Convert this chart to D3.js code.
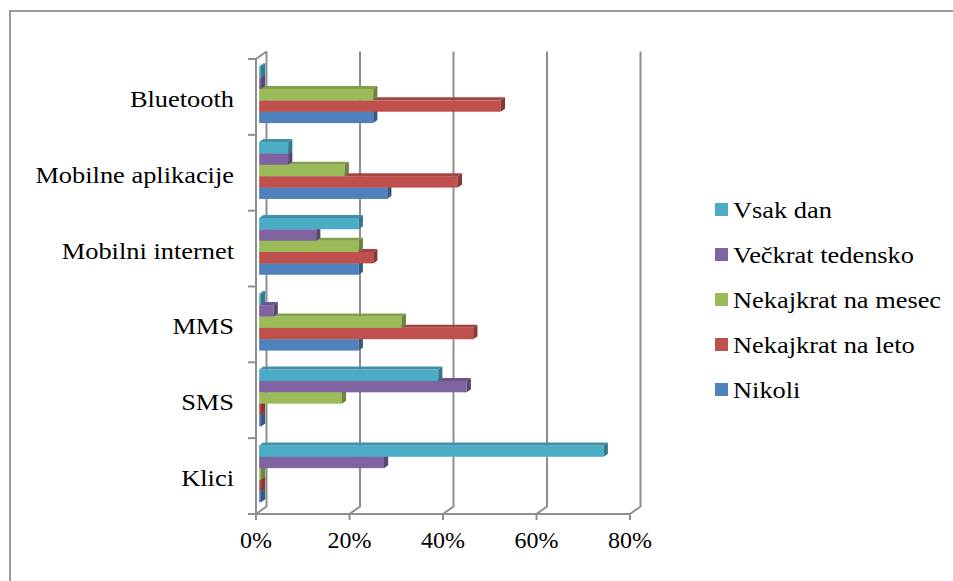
<!DOCTYPE html>
<html>
<head>
<meta charset="utf-8">
<script src="https://cdn.jsdelivr.net/npm/d3@7/dist/d3.min.js"></script>
<style>
  html, body { margin: 0; padding: 0; background: #fff; }
  svg { display: block; }
</style>
</head>
<body>
<svg id="chart" width="953" height="581"></svg>
<script>
// Categories, top to bottom
const categories = ["Bluetooth", "Mobilne aplikacije", "Mobilni internet", "MMS", "SMS", "Klici"];
// Series, top bar to bottom bar within each category
const seriesNames = ["Vsak dan", "Večkrat tedensko", "Nekajkrat na mesec", "Nekajkrat na leto", "Nikoli"];
const seriesColors = ["#4BACC6", "#8064A2", "#9BBB59", "#C0504D", "#4F81BD"];

// Shares per series, aligned with categories
const vsakDan        = [0.004, 0.062, 0.213, 0.004, 0.383, 0.737];
const veckratTeden   = [0.004, 0.062, 0.122, 0.031, 0.444, 0.267];
const nakajkratMesec = [0.244, 0.183, 0.213, 0.305, 0.177, 0.004];
const nakajkratLeto  = [0.517, 0.425, 0.244, 0.458, 0.004, 0.004];
const nikoli         = [0.244, 0.274, 0.213, 0.213, 0.004, 0.004];
const seriesValues = [vsakDan, veckratTeden, nakajkratMesec, nakajkratLeto, nikoli];

const tickValues = [0, 0.2, 0.4, 0.6, 0.8];

const FONT = '"Liberation Serif", "Times New Roman", serif';
const FONT_SIZE = 24;
const STRETCH = 1.1;

const svg = d3.select("#chart");
const gridColor = "#8f8f8f";

// Outer frame
svg.append("path")
  .attr("d", "M10,581V11H953")
  .attr("fill", "none").attr("stroke", "#9a9a9a").attr("stroke-width", 2);

// Front plane scales
const x = d3.scaleLinear().domain([0, 0.8]).range([256, 630]);
const y = d3.scaleBand().domain(categories).range([59, 514]).paddingInner(0.25).paddingOuter(0.125);
const yInner = d3.scaleBand().domain(seriesNames).range([0, y.bandwidth()]);

// Depth of the 3D box, and the slice of it the bars occupy
const DX = 10.5, DY = -7.5;
const barFront = 0.3, barDepth = 0.4;
const yTop = 59, yBase = 514;

const grid = svg.append("g").attr("fill", "none").attr("stroke", gridColor).attr("stroke-width", 2);

// Back wall gridlines and floor diagonals
tickValues.forEach(t => {
  grid.append("path")
    .attr("d", `M${x(t)},${yBase + 6}V${yBase}L${x(t) + DX},${yBase + DY}V${yTop + DY}`);
});
// Front baseline
grid.append("path").attr("d", `M${x(0) - 3},${yBase}H${x(0.8)}`);
// Left wall: front edge and top edge
grid.append("path").attr("d", `M${x(0) + DX},${yTop + DY}L${x(0)},${yTop}V${yBase}`);
// Category ticks on the left wall
const boundaries = d3.range(categories.length + 1).map(i => yTop + i * y.step());
boundaries.forEach(b => {
  grid.append("path").attr("d", `M${x(0) - 8},${b}H${x(0)}`);
});

// Bars, drawn bottom-up so upper bars cover the top faces below them
const fdx = barFront * DX, fdy = barFront * DY;
const bdx = barDepth * DX, bdy = barDepth * DY;
const bars = svg.append("g");
const catOrder = categories.map((c, i) => i).reverse();
catOrder.forEach(ci => {
  const cat = categories[ci];
  for (let si = seriesNames.length - 1; si >= 0; si--) {
    const v = seriesValues[si][ci];
    const col = d3.color(seriesColors[si]);
    const x0 = x(0) + fdx, x1 = x(v) + fdx;
    const ya = y(cat) + yInner(seriesNames[si]) + fdy;
    const yb = ya + yInner.bandwidth();
    const g = bars.append("g");
    g.append("rect")
      .attr("x", x0).attr("y", ya)
      .attr("width", x1 - x0).attr("height", yb - ya)
      .attr("fill", col.formatHex());
    g.append("polygon")
      .attr("points", [[x0, ya], [x1, ya], [x1 + bdx, ya + bdy], [x0 + bdx, ya + bdy]].join(" "))
      .attr("fill", col.darker(0.45).formatHex());
    g.append("polygon")
      .attr("points", [[x1, ya], [x1 + bdx, ya + bdy], [x1 + bdx, yb + bdy], [x1, yb]].join(" "))
      .attr("fill", col.darker(1.0).formatHex());
  }
});

// Category labels
svg.append("g").selectAll("text").data(categories).join("text")
  .attr("transform", d => `translate(234, ${y(d) + y.bandwidth() / 2 + 10}) scale(${STRETCH}, 1)`)
  .attr("text-anchor", "end")
  .style("font-family", FONT)
  .style("font-size", FONT_SIZE + "px")
  .text(d => d);

// Value axis labels
svg.append("g").selectAll("text").data(tickValues).join("text")
  .attr("x", d => x(d))
  .attr("y", 548)
  .attr("text-anchor", "middle")
  .style("font-family", FONT)
  .style("font-size", FONT_SIZE + "px")
  .text(d => d3.format(".0%")(d));

// Legend
const legend = svg.append("g").selectAll("g").data(seriesNames).join("g")
  .attr("transform", (d, i) => `translate(715, ${210 + i * 45})`);
legend.append("rect")
  .attr("x", 0).attr("y", -7).attr("width", 13).attr("height", 13)
  .attr("fill", (d, i) => seriesColors[i]);
legend.append("text")
  .attr("transform", `translate(18, 7.5) scale(${STRETCH}, 1)`)
  .style("font-family", FONT)
  .style("font-size", FONT_SIZE + "px")
  .text(d => d);
</script>
</body>
</html>
